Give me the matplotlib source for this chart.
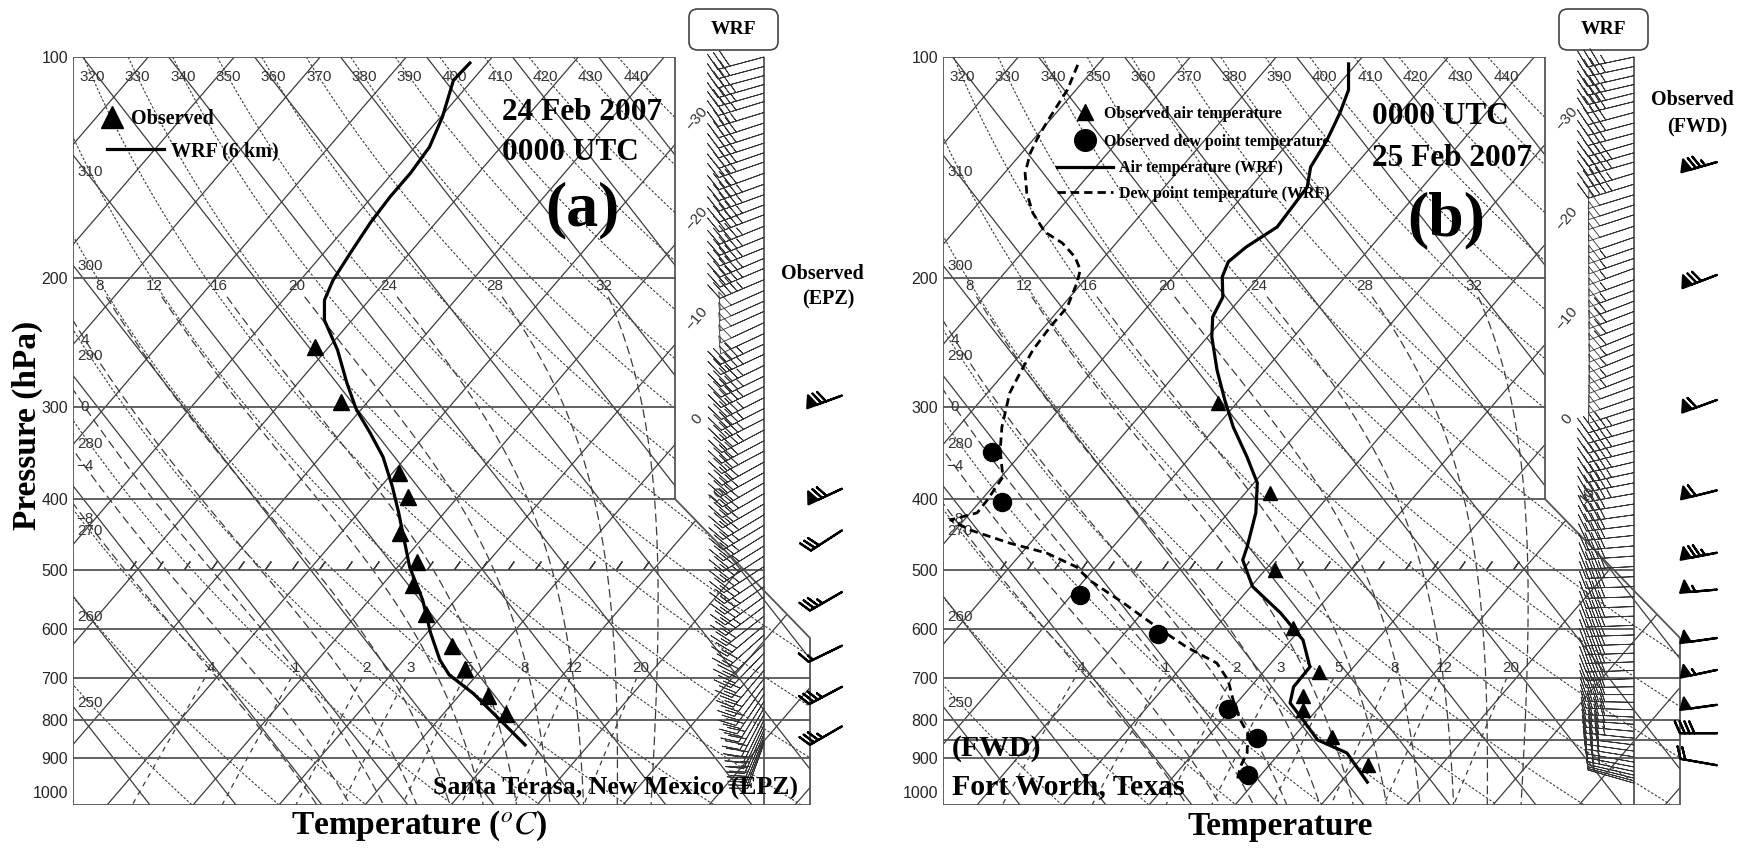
import numpy as np
import matplotlib
matplotlib.use("Agg")
import matplotlib.pyplot as plt
from matplotlib.transforms import Affine2D
from matplotlib.patches import Polygon, FancyBboxPatch
from matplotlib.ticker import NullLocator

plt.rcParams["font.family"] = ["Liberation Serif", "DejaVu Serif"]
plt.rcParams["mathtext.fontset"] = "stix"

# ---------------- soundings ----------------
# (a) Santa Teresa, NM (EPZ), 0000 UTC 24 Feb 2007
wrf_p_a = [101.9, 107.5, 120.7, 132.6, 143.9, 155.1, 168.2, 184.9, 201.3, 214.3,
           228.2, 250.5, 277.9, 302.3, 325.0, 350.4, 385.0, 417.4, 494.8, 548.5,
           608.0, 662.0, 694.0, 735.0, 799.0, 864.0]
wrf_t_a = [-62.0, -62.2, -59.8, -58.3, -57.9, -57.9, -57.6, -56.9, -56.2, -55.2,
           -53.2, -48.7, -44.3, -40.5, -36.6, -32.7, -28.6, -25.3, -18.6, -13.8,
           -9.6, -5.8, -3.2, 1.4, 7.2, 12.6]
obs_p_a = [248, 295, 368, 397, 445, 487, 523, 573, 634, 681, 741, 784]
obs_t_a = [-51.6, -43.1, -29.3, -25.8, -23.1, -18.3, -16.5, -12.0, -5.8, -2.0, 3.4, 7.3]

# (b) Fort Worth, TX (FWD), 0000 UTC 25 Feb 2007
wrf_p_b = [102.2, 110.9, 119.2, 129.7, 141.2, 150.3, 170.4, 181.4, 190.0, 199.2,
           212.3, 225.9, 240.5, 266.7, 293.0, 319.0, 350.4, 380.2, 417.4, 464.5,
           484.0, 526.0, 571.4, 621.8, 676.6, 720.4, 757.6, 799.0, 850.7, 886.0, 971.0]
wrf_t_b = [-60.9, -58.3, -57.0, -55.8, -55.0, -53.4, -52.9, -54.5, -55.1, -54.3,
           -52.2, -51.4, -49.5, -45.6, -41.7, -38.0, -33.4, -29.6, -26.8, -24.4,
           -23.6, -19.8, -13.9, -8.6, -5.1, -5.0, -3.8, -0.6, 3.1, 7.8, 13.1]
wrf_pd_b = [102.5, 110.9, 120.7, 128.5, 135.1, 143.9, 153.2, 163.1, 173.1, 179.1,
            187.2, 194.9, 202.9, 219.0, 233.1, 250.5, 269.3, 286.7, 319.0, 342.8,
            373.0, 401.1, 417.4, 426.8, 440.5, 459.0, 473.5, 494.8, 515.6, 553.6,
            597.0, 636.0, 668.6, 705.2, 750.8, 799.0, 832.8, 886.0, 925.8, 973.8]
wrf_td_b = [-92.3, -91.0, -90.3, -89.7, -89.0, -87.6, -85.4, -82.7, -79.4, -76.3,
            -73.4, -71.5, -70.6, -69.3, -69.3, -69.0, -68.2, -67.4, -64.9, -62.8,
            -59.8, -59.3, -59.2, -61.6, -58.3, -52.4, -47.1, -42.2, -39.4, -33.2,
            -26.9, -21.4, -16.3, -13.3, -10.7, -7.9, -5.7, -3.8, -3.2, -2.0]
obs_p_b = [296, 392, 499, 599, 687, 741, 774, 842, 921]
obs_t_b = [-42.2, -27.2, -18.9, -11.0, -3.5, -3.0, -1.6, 4.5, 11.5]
obs_pd_b = [345, 404, 540, 610, 772, 845, 949]
obs_td_b = [-63.5, -57.4, -39.0, -26.1, -10.4, -4.2, -1.5]

# ---------------- winds (speed kt, direction deg) ----------------
wrf_wp_a = [100, 103, 106, 109, 112, 115, 119, 123, 127, 131,
            135, 139, 144, 149, 154, 159, 164, 170, 176, 182,
            188, 194, 201, 208, 215, 222, 230, 238, 246, 254,
            263, 272, 281, 291, 301, 311, 322, 333, 344, 356,
            368, 380, 393, 406, 420, 434, 448, 463, 478, 494,
            510, 526, 543, 560, 577, 594, 612, 630, 648, 666,
            684, 702, 720, 737, 754, 770, 785, 799, 812, 824,
            835, 845, 853, 860]
wrf_spd_a = [30, 30, 32, 34, 35, 36, 36, 38, 38, 40,
             40, 42, 42, 44, 44, 45, 45, 46, 46, 46,
             46, 47, 47, 48, 48, 48, 48, 48, 47, 47,
             46, 46, 45, 45, 44, 44, 43, 42, 42, 41,
             40, 40, 39, 38, 38, 37, 36, 36, 35, 35,
             34, 34, 33, 33, 32, 32, 31, 31, 30, 30,
             30, 30, 29, 29, 28, 28, 27, 26, 25, 24,
             23, 21, 19, 17]
wrf_dir_a = [255, 255, 255, 254, 254, 253, 253, 252, 252, 252,
             251, 251, 250, 250, 250, 249, 249, 248, 248, 248,
             247, 247, 247, 246, 246, 246, 245, 245, 245, 245,
             244, 244, 244, 243, 243, 243, 242, 242, 242, 241,
             241, 240, 240, 240, 239, 239, 238, 238, 237, 237,
             236, 235, 234, 233, 232, 230, 228, 226, 224, 222,
             220, 218, 216, 214, 212, 210, 208, 206, 205, 204,
             203, 202, 201, 200]
obs_wp_a = [289, 387, 441, 535, 633, 720, 815]
obs_spd_a = [70, 70, 30, 35, 15, 35, 35]
obs_dir_a = [250, 245, 237, 240, 244, 242, 240]

wrf_wp_b = [100, 103, 106, 109, 112, 115, 119, 123, 127, 131,
            135, 139, 144, 149, 154, 159, 164, 170, 176, 182,
            188, 194, 201, 208, 215, 222, 230, 238, 246, 254,
            263, 272, 281, 291, 301, 311, 322, 333, 344, 356,
            368, 380, 393, 406, 420, 434, 448, 463, 478, 494,
            510, 526, 543, 560, 577, 594, 612, 630, 648, 666,
            684, 702, 720, 738, 756, 774, 792, 810, 828, 846,
            864, 881, 897, 912, 926, 939, 950, 959, 967, 974]
wrf_spd_b = [35, 35, 36, 36, 38, 38, 40, 40, 42, 42,
             44, 45, 46, 47, 48, 50, 50, 52, 52, 55,
             55, 55, 56, 56, 58, 58, 58, 58, 56, 56,
             55, 54, 52, 50, 48, 47, 46, 45, 45, 44,
             44, 43, 43, 42, 42, 41, 41, 40, 40, 40,
             40, 39, 39, 38, 38, 38, 38, 38, 38, 38,
             38, 38, 39, 40, 40, 40, 39, 38, 36, 34,
             32, 30, 28, 26, 25, 24, 22, 20, 18, 16]
wrf_dir_b = [258, 258, 257, 257, 256, 256, 255, 255, 255, 254,
             254, 254, 253, 253, 253, 252, 252, 252, 251, 251,
             251, 250, 250, 250, 249, 249, 249, 248, 248, 248,
             248, 249, 250, 251, 252, 253, 254, 255, 256, 257,
             258, 259, 260, 261, 262, 263, 264, 265, 266, 267,
             268, 268, 268, 268, 268, 268, 268, 268, 268, 268,
             268, 268, 269, 270, 271, 272, 273, 274, 275, 276,
             277, 278, 279, 280, 281, 282, 283, 284, 285, 286]
obs_wp_b = [139, 198, 293, 389, 473, 531, 618, 683, 762, 833, 921]
obs_spd_b = [75, 70, 60, 60, 75, 55, 50, 55, 50, 40, 20]
obs_dir_b = [254, 249, 250, 256, 259, 265, 262, 258, 262, 270, 280]

# ---------------- diagram background values ----------------
isotherms = list(range(-110, 61, 10))
cross_lines = list(range(-35, 126, 10))
dry_thetas = list(range(250, 441, 10))
moist_thetaw = list(range(-8, 33, 4))
mix_ratios = [0.4, 1, 2, 3, 5, 8, 12, 20]
mix_labels = [".4", "1", "2", "3", "5", "8", "12", "20"]
p_ticks = [100, 200, 300, 400, 500, 600, 700, 800, 900, 1000]

# ---------------- layout (pixels of the 1751x848 canvas) ----------------
W, H = 1751, 848
AX_W, AX_TOP, AX_BOT = 807, 57, 805
P_TOP = 100.0
PX_PER_LN = 319.0
P_BOT = P_TOP * np.exp((AX_BOT - AX_TOP) / PX_PER_LN)
PX_PER_C = 8.6
SKEW, SKEW_B = 0.86, 0.78
T_LEFT = (73 - 365) / PX_PER_C
Y0 = H - AX_BOT
GRID = "#3c3c3c"


def fx(px):
    return (px - 73) / AX_W


def fy(py):
    return (AX_BOT - py) / (AX_BOT - AX_TOP)


POLY = [(fx(73), fy(57)), (fx(675), fy(57)), (fx(675), fy(499)),
        (fx(810), fy(638)), (fx(810), fy(805)), (fx(73), fy(805))]
BARB_X = fx(764)


def screen_x(t, p):
    return 365 + PX_PER_C * np.asarray(t) + SKEW * PX_PER_LN * np.log(P_BOT / np.asarray(p))


def cross_p(t, p, x_px):
    xs = screen_x(t, p)
    order = np.argsort(xs)
    return np.interp(x_px, xs[order], np.asarray(p)[order])


def moist_adiabat(thw):
    Rd, cp, Lv, eps = 287.04, 1005.7, 2.501e6, 0.622

    def rate(T, p):
        es = 6.112 * np.exp(17.67 * (T - 273.15) / (T - 29.65))
        rs = eps * es / (p - es)
        return (Rd * T + Lv * rs) / (p * (cp + Lv * Lv * rs * eps / (Rd * T * T)))

    parts = []
    for step, stop in ((-2.0, 199.0), (2.0, P_BOT + 2)):
        T, p = thw + 273.15, 1000.0
        ps, ts = [p], [T]
        while (stop - p) * np.sign(step) > 0:
            k1 = rate(T, p)
            k2 = rate(T + 0.5 * step * k1, p + 0.5 * step)
            T += step * k2
            p += step
            ps.append(p)
            ts.append(T)
        parts.append((ps, ts))
    pu, tu = parts[0]
    pd, td = parts[1]
    p_all = np.array(pu[::-1] + pd[1:])
    t_all = np.array(tu[::-1] + td[1:]) - 273.15
    return p_all, t_all


def mixing_td(w, p):
    e = (w / 1000.0) * p / (0.622 + w / 1000.0)
    a = np.log(e / 6.112)
    return 243.5 * a / (17.67 - a)


def uv(spd, wdir):
    r = np.deg2rad(np.asarray(wdir, float))
    s = np.asarray(spd, float)
    return -s * np.sin(r), -s * np.cos(r)


fig = plt.figure(figsize=(W / 100, H / 100), dpi=100)
fig.patch.set_facecolor("white")


def make_axes(left_px):
    ax = fig.add_axes([left_px / W, Y0 / H, AX_W / W, (AX_BOT - AX_TOP) / H])
    ax.set_xlim(T_LEFT, T_LEFT + AX_W / PX_PER_C)
    ax.set_yscale("log")
    ax.set_ylim(P_BOT, P_TOP)
    ax.set_autoscale_on(False)
    ax.yaxis.set_minor_locator(NullLocator())
    ax.set_xticks([])
    ax.set_yticks(p_ticks, [str(v) for v in p_ticks], fontfamily="Liberation Sans",
                  fontsize=11.5, color="#262626")
    ax.tick_params(axis="y", length=0, pad=3.5)
    for s in ax.spines.values():
        s.set_visible(False)
    return ax


def background(ax, extra_isobars=()):
    st = ax.transData + Affine2D().translate(0, -Y0).skew(np.arctan(SKEW), 0).translate(0, Y0)
    sb = ax.transData + Affine2D().translate(0, -Y0).skew(np.arctan(-SKEW_B), 0).translate(0, Y0)
    clip = Polygon(POLY, closed=True, transform=ax.transAxes)
    lab = dict(fontfamily="Liberation Sans", fontsize=11, color="#333333",
               ha="center", va="center")
    yt = ax.get_yaxis_transform()

    def clipped(lines):
        for ln in lines:
            ln.set_clip_path(clip)

    for t in isotherms:
        clipped(ax.plot([t, t], [P_BOT, P_TOP], color=GRID, lw=0.9, transform=st))
    for t in cross_lines:
        clipped(ax.plot([t, t], [P_BOT, P_TOP], color=GRID, lw=0.9, transform=sb))

    pp = np.linspace(P_TOP, P_BOT, 160)
    for th in dry_thetas:
        tt = th * (pp / 1000.0) ** 0.286 - 273.15
        clipped(ax.plot(tt, pp, color=GRID, lw=0.8, ls=(0, (2.2, 1.6)), transform=st))
        t_top = th * (106.5 / 1000.0) ** 0.286 - 273.15
        if screen_x(t_top, 106.5) > 82:
            ax.text(t_top, 106.5, str(th), transform=st, **lab)
        else:
            ax.text(fx(90), cross_p(tt, pp, 90), str(th), transform=yt, **lab)

    for tw in moist_thetaw:
        mp, mt = moist_adiabat(tw)
        keep = mp >= 212
        clipped(ax.plot(mt[keep], mp[keep], color=GRID, lw=0.9, ls=(0, (7, 3.5)),
                        transform=st))
        t205 = np.interp(205, mp, mt)
        if screen_x(t205, 205) > 90:
            ax.text(t205, 205, str(tw), transform=st, **lab)
        else:
            ax.text(fx(85), cross_p(mt[keep], mp[keep], 85), str(tw).replace("-", "\u2212"),
                    transform=yt, **lab)

    pm = np.linspace(700, P_BOT, 40)
    for w, s in zip(mix_ratios, mix_labels):
        clipped(ax.plot(mixing_td(w, pm), pm, color=GRID, lw=0.9, ls=(0, (4, 4)),
                        transform=st))
        ax.text(mixing_td(w, 680), 680, s, transform=st, **lab)

    # isotherm labels outside the box
    k = SKEW * PX_PER_LN / PX_PER_C
    rot = np.degrees(np.arctan(1 / SKEW))
    for t in (-30, -20, -10, 0):
        pl = P_BOT / np.exp(((697 - 365) / PX_PER_C - t) / k)
        ax.text(t, pl, "\u2212%d" % -t if t < 0 else "0", transform=st, rotation=rot, **lab)
    ax.text(10, 395, "10", transform=st, rotation=rot, **lab)

    # isobars
    for p in (200, 300, 400):
        ax.axhline(p, 0, POLY[1][0], color="#555555", lw=1.3)
    for p in (500, 600):
        ax.axhline(p, 0, BARB_X, color="#555555", lw=1.3)
    for p in (700, 800, 900) + tuple(extra_isobars):
        ax.axhline(p, 0, POLY[3][0], color="#555555", lw=1.3)

    # hatching along 500 hPa
    hx = np.arange(fx(133), fx(660), 27 / AX_W)
    ax.plot(hx, np.full(len(hx), 492.0), transform=yt, ls="none",
            marker=(2, 2, -35), ms=7, mew=0.9, color=GRID)

    ax.add_patch(Polygon(POLY, closed=True, fill=False, ec="#555555", lw=1.3,
                         transform=ax.transAxes, zorder=3))
    ax.plot([BARB_X, BARB_X], [0, 1], transform=ax.transAxes, color="#555555",
            lw=1.3, zorder=3)
    ax.add_patch(FancyBboxPatch((fx(689), fy(50)), 89 / AX_W, 41 / (AX_BOT - AX_TOP),
                                boxstyle="round,pad=0,rounding_size=0.011",
                                transform=ax.transAxes, fc="white", ec="#444444",
                                lw=1.2, clip_on=False))
    ax.text(fx(733), fy(30), "WRF", transform=ax.transAxes, ha="center", va="center",
            fontsize=14, fontweight="bold")
    return st


def winds(ax, wp, wspd, wdir, op, ospd, odir, obs_x):
    u, v = uv(wspd, wdir)
    ax.barbs(np.full(len(wp), BARB_X), wp, u, v, transform=ax.get_yaxis_transform(),
             length=8.3, pivot="tip", linewidth=0.6, barbcolor="#333333",
             flagcolor="none", sizes=dict(spacing=0.13, height=0.36, width=0.25),
             clip_on=False, zorder=4)
    u, v = uv(ospd, odir)
    ax.barbs(np.full(len(op), obs_x), op, u, v, transform=ax.get_yaxis_transform(),
             length=7.3, pivot="tip", linewidth=1.6, color="black",
             sizes=dict(spacing=0.13, height=0.32, width=0.28), clip_on=False, zorder=4)


# ---------------- panel (a) ----------------
ax_a = make_axes(73)
st_a = background(ax_a)
wrf_a, = ax_a.plot(wrf_t_a, wrf_p_a, color="black", lw=2.3, transform=st_a, zorder=5)
obs_a, = ax_a.plot(obs_t_a, obs_p_a, ls="none", marker="^", ms=12, color="black",
                   transform=st_a, zorder=5)
winds(ax_a, wrf_wp_a, wrf_spd_a, wrf_dir_a, obs_wp_a, obs_spd_a, obs_dir_a, fx(842))

leg_font = dict(family="Liberation Serif", weight="bold", size=14.5)
leg1 = ax_a.legend([obs_a], ["Observed"], loc="center left", prop=leg_font,
                   bbox_to_anchor=(102 / W, 1 - 119 / H), bbox_transform=fig.transFigure,
                   frameon=False, borderpad=0, borderaxespad=0, handlelength=1.0,
                   handletextpad=0.45, markerscale=1.35, numpoints=1)
ax_a.add_artist(leg1)
ax_a.legend([wrf_a], ["WRF (6 km)"], loc="center left", prop=leg_font,
            bbox_to_anchor=(107 / W, 1 - 151 / H), bbox_transform=fig.transFigure,
            frameon=False, borderpad=0, borderaxespad=0, handlelength=2.85,
            handletextpad=0.35)

# ---------------- panel (b) ----------------
ax_b = make_axes(943)
st_b = background(ax_b, extra_isobars=(850,))
wrf_b, = ax_b.plot(wrf_t_b, wrf_p_b, color="black", lw=2.3, transform=st_b, zorder=5)
wrfd_b, = ax_b.plot(wrf_td_b, wrf_pd_b, color="black", lw=2.0, ls=(0, (3, 1.8)),
                    transform=st_b, zorder=5)
obs_b, = ax_b.plot(obs_t_b, obs_p_b, ls="none", marker="^", ms=10, color="black",
                   transform=st_b, zorder=5)
obsd_b, = ax_b.plot(obs_td_b, obs_pd_b, ls="none", marker="o", ms=13, color="black",
                    transform=st_b, zorder=5)
winds(ax_b, wrf_wp_b, wrf_spd_b, wrf_dir_b, obs_wp_b, obs_spd_b, obs_dir_b, fx(1717 - 870))

leg_font_b = dict(family="Liberation Serif", weight="bold", size=11.5)
leg3 = ax_b.legend([obs_b, obsd_b], ["Observed air temperature",
                                     "Observed dew point temperature"],
                   loc="center left", prop=leg_font_b,
                   bbox_to_anchor=(1077 / W, 1 - 128 / H), bbox_transform=fig.transFigure,
                   frameon=False, borderpad=0, borderaxespad=0, handlelength=1.0,
                   handletextpad=0.7, labelspacing=0.75, markerscale=1.2, numpoints=1)
ax_b.add_artist(leg3)
ax_b.legend([wrf_b, wrfd_b], ["Air temperature (WRF)", "Dew point temperature (WRF)"],
            loc="center left", prop=leg_font_b,
            bbox_to_anchor=(1057 / W, 1 - 181 / H), bbox_transform=fig.transFigure,
            frameon=False, borderpad=0, borderaxespad=0, handlelength=3.5,
            handletextpad=0.38, labelspacing=0.6)


# ---------------- annotations ----------------
def ftext(px, py, s, size, ha="left", **kw):
    fig.text(px / W, 1 - py / H, s, fontsize=size, fontweight="bold", ha=ha,
             va="center", **kw)


ftext(502, 112, "24 Feb 2007", 22.5)
ftext(502, 152, "0000 UTC", 22.5)
ftext(582, 210, "(a)", 46, ha="center")
ftext(822, 274, "Observed", 14.5, ha="center")
ftext(828, 299, "(EPZ)", 14.5, ha="center")
ftext(433, 787, "Santa Terasa, New Mexico (EPZ)", 18.5)
ftext(419, 826, "Temperature ($^{o}C$)", 24, ha="center")
ftext(27, 425, "Pressure (hPa)", 24, ha="center", rotation=90)

ftext(1372, 117, "0000 UTC", 22.5)
ftext(1372, 158, "25 Feb 2007", 22.5)
ftext(1446, 220, "(b)", 46, ha="center")
ftext(1692, 100, "Observed", 14.5, ha="center")
ftext(1697, 127, "(FWD)", 14.5, ha="center")
ftext(952, 748, "(FWD)", 21.5)
ftext(952, 787, "Fort Worth, Texas", 21.5)
ftext(1280, 826, "Temperature", 24, ha="center")

fig.savefig("out.png", dpi=100, facecolor="white")
